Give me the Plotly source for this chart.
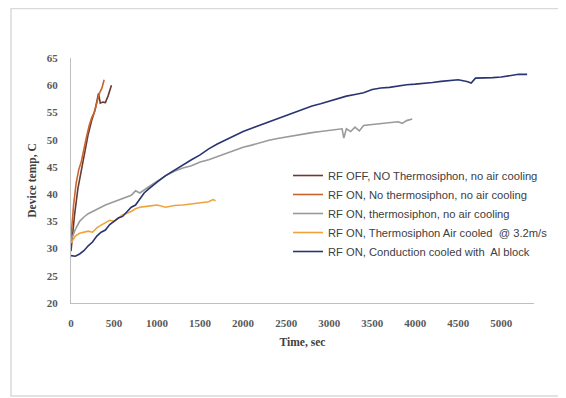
import plotly.graph_objects as go

names = [
    "RF OFF, NO Thermosiphon, no air cooling",
    "RF ON, No thermosiphon, no air cooling",
    "RF ON, thermosiphon, no air cooling",
    "RF ON, Thermosiphon Air cooled  @ 3.2m/s",
    "RF ON, Conduction cooled with  Al block",
]
colors = ["#6B3A32", "#C8652F", "#9A9A9A", "#F0A33A", "#2A3470"]

t_off = [0, 20, 40, 80, 120, 160, 200, 240, 280, 320, 340, 370, 400, 430, 470]
T_off = [29.5, 33, 36, 41, 44.5, 47.5, 51, 53.5, 55.5, 58.5, 56.7, 56.9, 56.8, 58, 60]

t_on = [0, 30, 60, 90, 120, 150, 180, 210, 240, 270, 300, 330, 360, 385]
T_on = [32, 38, 42, 44.5, 46, 48.5, 50.5, 52.5, 54, 55, 57, 58.5, 59.5, 61]

t_thermo = [0, 50, 100, 150, 200, 300, 400, 500, 600, 700, 750, 800, 900, 1000,
            1100, 1200, 1300, 1400, 1500, 1600, 1700, 1800, 1900, 2000, 2100,
            2200, 2300, 2400, 2500, 2600, 2700, 2800, 2900, 3000, 3100, 3150,
            3170, 3200, 3250, 3300, 3350, 3400, 3500, 3600, 3700, 3800, 3850,
            3900, 3965]
T_thermo = [31.5, 33.5, 35, 35.8, 36.4, 37.2, 38.0, 38.6, 39.2, 39.8, 40.6, 40.2,
            41.3, 42.4, 43.4, 44.2, 44.8, 45.2, 45.9, 46.3, 46.9, 47.4, 48.0,
            48.6, 49.0, 49.5, 49.9, 50.2, 50.5, 50.8, 51.0, 51.3, 51.5, 51.7,
            51.9, 52.0, 50.3, 52.0, 51.5, 52.3, 51.6, 52.6, 52.8, 53.0, 53.2,
            53.3, 53.0, 53.5, 53.8]

t_air = [0, 50, 100, 150, 200, 250, 300, 350, 400, 450, 500, 550, 600, 650, 700,
         750, 800, 900, 1000, 1100, 1200, 1300, 1400, 1500, 1600, 1650, 1680]
T_air = [31, 32.3, 32.8, 33.0, 33.2, 33.0, 33.8, 34.3, 34.8, 35.2, 35.0, 35.6,
         36.2, 36.5, 36.8, 37.3, 37.6, 37.8, 38.0, 37.6, 37.9, 38.0, 38.2, 38.4,
         38.6, 39.0, 38.8]

t_al = [0, 50, 100, 150, 200, 250, 300, 350, 400, 450, 500, 550, 600, 650, 700,
        750, 800, 850, 900, 950, 1000, 1100, 1200, 1300, 1400, 1500, 1600, 1700,
        1800, 1900, 2000, 2100, 2200, 2300, 2400, 2500, 2600, 2700, 2800, 2900,
        3000, 3100, 3200, 3300, 3400, 3500, 3600, 3700, 3800, 3900, 4000, 4100,
        4200, 4300, 4400, 4500, 4600, 4650, 4700, 4800, 4900, 5000, 5100, 5200,
        5300]
T_al = [28.7, 28.6, 29.0, 29.6, 30.5, 31.2, 32.3, 33.0, 33.4, 34.4, 35.0, 35.6,
        35.9, 36.8, 37.6, 38.0, 39.2, 40.2, 40.9, 41.6, 42.2, 43.4, 44.4, 45.4,
        46.3, 47.2, 48.3, 49.2, 50.0, 50.8, 51.5, 52.1, 52.7, 53.3, 53.8, 54.4,
        55.0, 55.6, 56.2, 56.6, 57.1, 57.5, 58.0, 58.3, 58.6, 59.2, 59.5, 59.6,
        59.9, 60.1, 60.2, 60.3, 60.5, 60.7, 60.9, 61.0, 60.7, 60.4, 61.3, 61.3,
        61.4, 61.5, 61.8, 62.0, 62.0]

x_ticks = [0, 500, 1000, 1500, 2000, 2500, 3000, 3500, 4000, 4500, 5000]
y_ticks = [20, 25, 30, 35, 40, 45, 50, 55, 60, 65]

series = [(t_off, T_off), (t_on, T_on), (t_thermo, T_thermo), (t_air, T_air), (t_al, T_al)]

fig = go.Figure()
for (tx, ty), nm, c in zip(series, names, colors):
    fig.add_trace(go.Scatter(x=tx, y=ty, mode="lines", name=nm,
                             line=dict(color=c, width=1.6)))

serif = "Liberation Serif"
FW, FH = 558, 390          # page has an 8px body margin
L, T, W, H = 63, 50, 463, 245
fig.update_layout(
    width=FW, height=FH,
    margin=dict(l=L, r=FW - L - W, t=T, b=FH - T - H, autoexpand=False),
    paper_bgcolor="white", plot_bgcolor="white",
    showlegend=True,
    legend=dict(x=(280 - L) / W, y=(T + H - 153) / H, xanchor="left", yanchor="top",
                font=dict(family="Liberation Sans", size=11.2, color="#404040"),
                bgcolor="rgba(0,0,0,0)", itemwidth=30, tracegroupgap=0),
    xaxis=dict(range=[0, 5380], tickvals=x_ticks, showgrid=False, zeroline=False,
               showline=True, linecolor="#BFBFBF", linewidth=1, automargin=False,
               ticks="", ticklabelstandoff=10,
               tickfont=dict(family=serif, size=11, color="#595959", weight="bold"),
               title=dict(text="<b>Time, sec</b>", standoff=9,
                          font=dict(family=serif, size=11.5, color="#404040"))),
    yaxis=dict(range=[20, 65], tickvals=y_ticks, showgrid=False, zeroline=False,
               showline=True, linecolor="#BFBFBF", linewidth=1, automargin=False,
               ticks="", ticklabelstandoff=10,
               tickfont=dict(family=serif, size=11, color="#595959", weight="bold"),
               title=dict(text="<b>Device temp, C</b>", standoff=7,
                          font=dict(family=serif, size=11.5, color="#404040"))),
    shapes=[dict(type="rect", xref="paper", yref="paper",
                 x0=(3 - L) / W, x1=(580 - L) / W,
                 y0=(T + H - 388) / H, y1=(T + H - 0.5) / H,
                 line=dict(color="#D9D9D9", width=1.5), layer="below")],
)

fig.write_html("out.html")
